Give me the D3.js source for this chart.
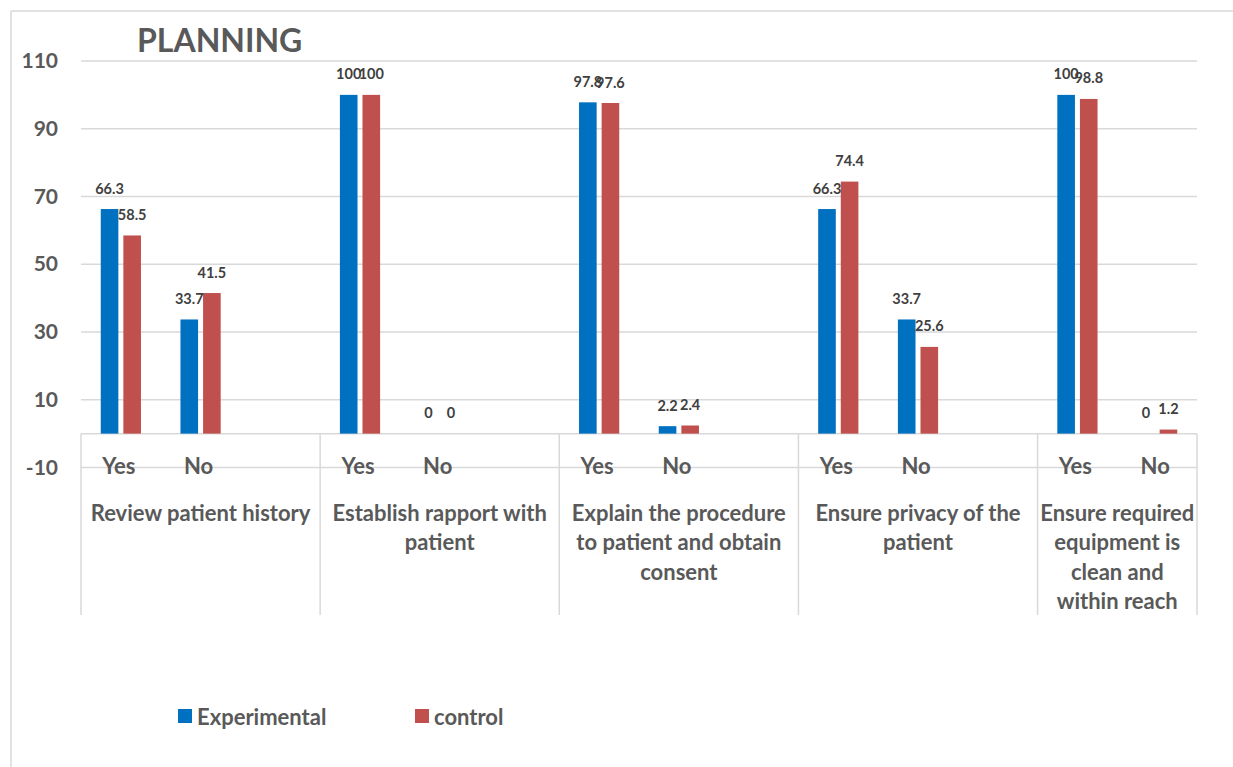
<!DOCTYPE html>
<html>
<head>
<meta charset="utf-8">
<script src="https://cdn.jsdelivr.net/npm/d3@7"></script>
<style>
  html, body { margin: 0; padding: 0; background: #fff; }
  svg { display: block; font-family: Lato, "Open Sans", sans-serif; }
</style>
</head>
<body>
<svg id="chart" width="1233" height="767"></svg>
<script>
// ---- data ----
const title = "PLANNING";
const groupLabels = [
  ["Review patient history"],
  ["Establish rapport with", "patient"],
  ["Explain the procedure", "to patient and obtain", "consent"],
  ["Ensure privacy of the", "patient"],
  ["Ensure required", "equipment is", "clean and", "within reach"]
];
const answers = ["Yes", "No"];
const seriesNames = ["Experimental", "control"];
const experimental = [66.3, 33.7, 100, 0, 97.8, 2.2, 66.3, 33.7, 100, 0];
const control      = [58.5, 41.5, 100, 0, 97.6, 2.4, 74.4, 25.6, 98.8, 1.2];
const yTicks = [-10, 10, 30, 50, 70, 90, 110];
const colors = ["#0070C0", "#C0504D"];

// ---- layout ----
const svg = d3.select("#chart");
const plotLeft = 81, plotRight = 1197, plotTop = 61, plotBottom = 467.5;
const axisTextColor = "#595959";
const gridColor = "#D9D9D9";

// slots: each group has Yes, No and (except the last) an empty slot
const slots = [];
groupLabels.forEach((g, gi) => {
  answers.forEach(a => slots.push({ key: gi + "-" + a, group: gi, answer: a }));
  if (gi < groupLabels.length - 1) slots.push({ key: gi + "-blank", group: gi, answer: null });
});

const x = d3.scaleBand().domain(slots.map(s => s.key)).range([plotLeft, plotRight]).padding(0);
const xInner = d3.scaleBand().domain(seriesNames).range([0, x.bandwidth()])
  .paddingInner(0.221).paddingOuter(0.874);
const y = d3.scaleLinear().domain([-10, 110]).range([plotBottom, plotTop]);

// outer border (left / top)
svg.append("line").attr("x1", 11).attr("x2", 11).attr("y1", 11).attr("y2", 767)
  .attr("stroke", gridColor).attr("stroke-width", 1.5);
svg.append("line").attr("x1", 11).attr("x2", 1233).attr("y1", 11).attr("y2", 11)
  .attr("stroke", gridColor).attr("stroke-width", 1.5);

// title
svg.append("text").attr("x", 137).attr("y", 52).text(title)
  .attr("font-size", 32).attr("font-weight", 700).attr("fill", axisTextColor);

// gridlines
svg.append("g").selectAll("line").data(yTicks).join("line")
  .attr("x1", plotLeft).attr("x2", plotRight)
  .attr("y1", d => y(d)).attr("y2", d => y(d))
  .attr("stroke", gridColor).attr("stroke-width", 1.5);

// y axis labels
const yAxis = d3.axisLeft(y).tickValues(yTicks).tickSize(0).tickPadding(0)
  .tickFormat(d => String(d));
const yg = svg.append("g").attr("transform", `translate(58,0)`).call(yAxis);
yg.select(".domain").remove();
yg.selectAll("text").attr("font-size", 21).attr("font-weight", 700)
  .attr("fill", axisTextColor).attr("font-family", "Lato, sans-serif");

// zero axis line
svg.append("line").attr("x1", plotLeft).attr("x2", plotRight)
  .attr("y1", y(0)).attr("y2", y(0)).attr("stroke", gridColor).attr("stroke-width", 1.5);

// group separators
const sepBottom = 615;
const groupStarts = groupLabels.map((g, gi) => x(slots.find(s => s.group === gi).key));
const groupEnds = groupLabels.map((g, gi) => {
  const gs = slots.filter(s => s.group === gi);
  return x(gs[gs.length - 1].key) + x.bandwidth();
});
const seps = groupStarts.concat([plotRight]);
svg.append("g").selectAll("line").data(seps).join("line")
  .attr("x1", d => d).attr("x2", d => d)
  .attr("y1", y(0)).attr("y2", sepBottom)
  .attr("stroke", gridColor).attr("stroke-width", 1.5);

// bars
const barData = [];
let idx = 0;
slots.forEach(s => {
  if (s.answer) {
    barData.push({ slot: s.key, series: seriesNames[0], value: experimental[idx], c: colors[0] });
    barData.push({ slot: s.key, series: seriesNames[1], value: control[idx], c: colors[1] });
    idx++;
  }
});
svg.append("g").selectAll("rect").data(barData).join("rect")
  .attr("x", d => x(d.slot) + xInner(d.series))
  .attr("width", xInner.bandwidth())
  .attr("y", d => Math.min(y(d.value), y(0)))
  .attr("height", d => Math.abs(y(0) - y(d.value)))
  .attr("fill", d => d.c);

// data labels
svg.append("g").selectAll("text").data(barData).join("text")
  .attr("x", d => x(d.slot) + xInner(d.series) + xInner.bandwidth() / 2)
  .attr("y", d => y(d.value) - 21)
  .attr("text-anchor", "middle").attr("dominant-baseline", "central")
  .attr("font-size", 14.5).attr("font-weight", 700).attr("fill", "#404040")
  .text(d => d.value);

// answer labels
svg.append("g").selectAll("text").data(slots.filter(s => s.answer)).join("text")
  .attr("x", d => x(d.key) + x.bandwidth() / 2 - 2)
  .attr("y", 465).attr("dominant-baseline", "central").attr("text-anchor", "middle")
  .attr("font-size", 22).attr("font-weight", 700).attr("fill", axisTextColor)
  .text(d => d.answer);

// group labels
const gl = svg.append("g");
groupLabels.forEach((lines, gi) => {
  const cx = (groupStarts[gi] + groupEnds[gi]) / 2;
  const t = gl.append("text").attr("text-anchor", "middle")
    .attr("font-size", 22).attr("font-weight", 700).attr("fill", axisTextColor);
  lines.forEach((ln, li) => {
    t.append("tspan").attr("x", cx).attr("y", 512 + li * 29.5)
      .attr("dominant-baseline", "central").text(ln);
  });
});

// legend
const legendX = [178, 415];
const lg = svg.append("g");
seriesNames.forEach((n, i) => {
  lg.append("rect").attr("x", legendX[i]).attr("y", 709).attr("width", 14).attr("height", 14)
    .attr("fill", colors[i]);
  lg.append("text").attr("x", legendX[i] + 19).attr("y", 716).attr("dominant-baseline", "central")
    .attr("font-size", 22).attr("font-weight", 700).attr("fill", axisTextColor).text(n);
});
</script>
</body>
</html>
